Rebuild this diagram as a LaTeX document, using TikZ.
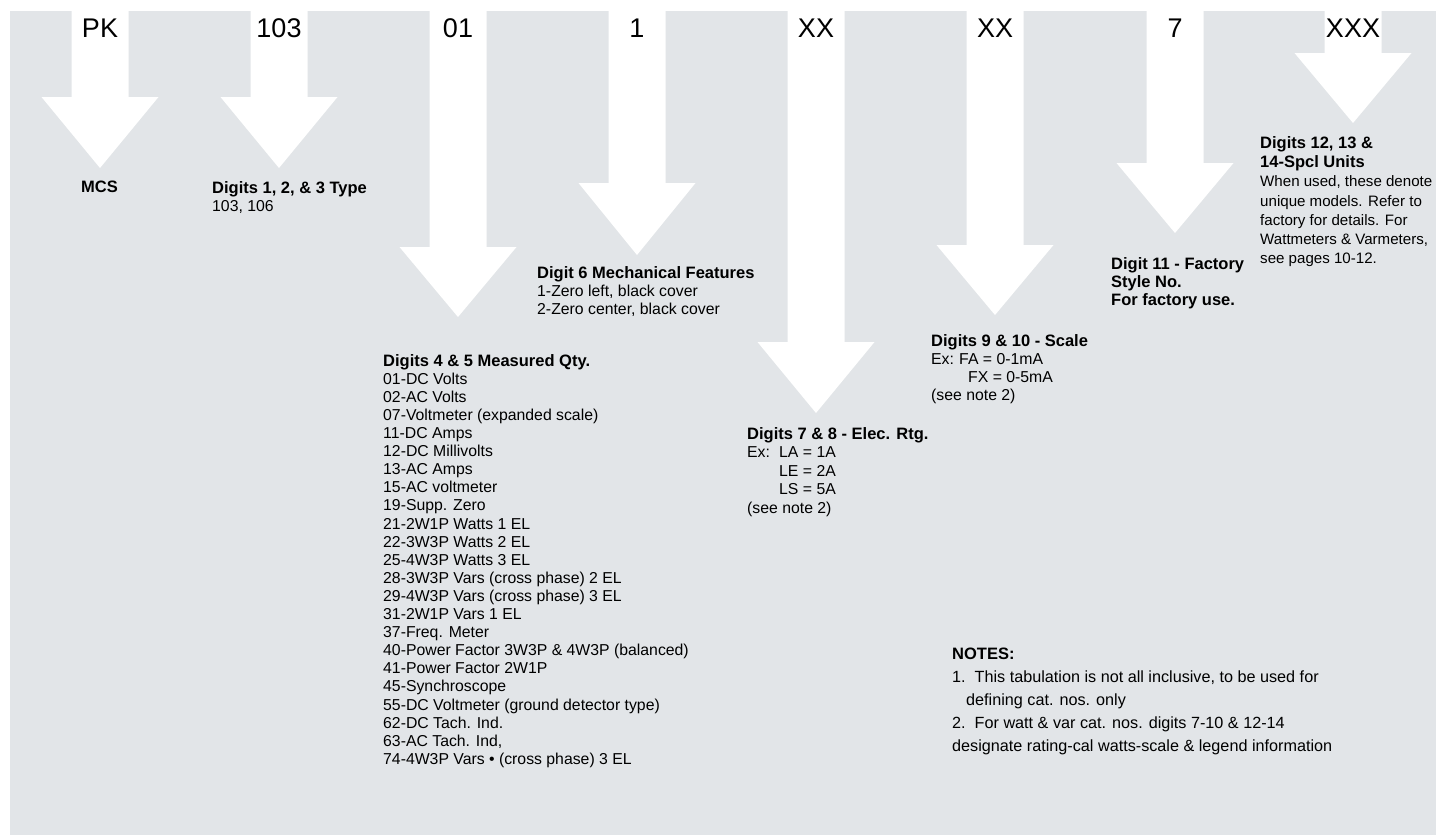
\documentclass[tikz,border=0pt]{standalone}
\usepackage{fontspec}
\setmainfont{Liberation Sans}
\definecolor{panelgray}{RGB}{226,229,232}
\tikzset{
  digarrow/.style={fill=white},
  codelbl/.style={font=\fontsize{27}{30}\selectfont, inner sep=0pt},
  infotxt/.style={anchor=north west, inner sep=0pt, align=left, font=\fontsize{15.8}{18.1}\selectfont},
  notetxt/.style={anchor=north west, inner sep=0pt, align=left, font=\fontsize{16.2}{23}\selectfont},
}
\newcommand{\hd}[1]{{\fontsize{16.5}{18.1}\selectfont\bfseries #1}}

\begin{document}
\begin{tikzpicture}[x=1pt,y=-1pt]
    \useasboundingbox (0,0) rectangle (1436,835);
    \fill[white] (0,0) rectangle (1436,835);
    \fill[panelgray] (10,11) rectangle (1436,835);

    % block arrows: centre / top of head / tip
    \foreach \cx/\ht/\tp [count=\i] in {100/97/168, 279/97/168, 458/247/317, 637/183/255,
        816/342/413, 995/245/315, 1175/163/233, 1353/53/123}{
      \fill[digarrow] (\cx-28.5,11) -- (\cx+28.5,11) -- (\cx+28.5,\ht) -- (\cx+58.5,\ht)
        -- (\cx,\tp) -- (\cx-58.5,\ht) -- (\cx-28.5,\ht) -- cycle;
      \coordinate (tip\i) at (\cx,\tp);
    }

    % code letters on the shafts
    \foreach \cx/\txt [count=\i] in {100/PK, 279/103, 458/01, 637/1, 816/XX, 995/XX, 1175/7, 1353/XXX}
      \node[codelbl] (code\i) at (\cx,28) {\txt};

    \node[infotxt] (mcs) at (81,181) {\hd{MCS}};
    \node[infotxt] (type) at (212,181) {\hd{Digits 1, 2, \& 3 Type}\\103, 106};
    \node[infotxt] (mech) at (537,266) {\hd{Digit 6 Mechanical Features}\\
      1-Zero left, black cover\\2-Zero center, black cover};
    \node[infotxt] (qty) at (383,354) {\hd{Digits 4 \& 5 Measured Qty.}\\
      01-DC Volts\\02-AC Volts\\07-Voltmeter (expanded scale)\\11-DC Amps\\
      12-DC Millivolts\\13-AC Amps\\15-AC voltmeter\\19-Supp. Zero\\
      21-2W1P Watts 1 EL\\22-3W3P Watts 2 EL\\25-4W3P Watts 3 EL\\
      28-3W3P Vars (cross phase) 2 EL\\29-4W3P Vars (cross phase) 3 EL\\
      31-2W1P Vars 1 EL\\37-Freq. Meter\\40-Power Factor 3W3P \& 4W3P (balanced)\\
      41-Power Factor 2W1P\\45-Synchroscope\\55-DC Voltmeter (ground detector type)\\
      62-DC Tach. Ind.\\63-AC Tach. Ind,\\74-4W3P Vars • (cross phase) 3 EL};
    \node[infotxt, font=\fontsize{15.8}{18.5}\selectfont] (elec) at (747,427) {\hd{Digits 7 \& 8 - Elec. Rtg.}\\
      \makebox[32pt][l]{Ex:}LA = 1A\\\hspace*{32pt}LE = 2A\\\hspace*{32pt}LS = 5A\\(see note 2)};
    \node[infotxt] (scale) at (931,334) {\hd{Digits 9 \& 10 - Scale}\\
      \makebox[28pt][l]{Ex:}FA = 0-1mA\\\hspace*{37pt}FX = 0-5mA\\(see note 2)};
    \node[infotxt] (factory) at (1111,257) {\hd{Digit 11 - Factory}\\\hd{Style No.}\\\hd{For factory use.}};
    \node[infotxt, font=\fontsize{15.1}{19.3}\selectfont] (spcl) at (1260,136) {\hd{Digits 12, 13 \&}\\\hd{14-Spcl Units}\\
      When used, these denote\\unique models. Refer to\\factory for details. For\\
      Wattmeters \& Varmeters,\\see pages 10-12.};

    \node[notetxt] (notes) at (952,648) {\hd{NOTES:}\\
      1.\ \ This tabulation is not all inclusive, to be used for\\
      \hspace*{14pt}defining cat. nos. only\\
      2.\ \ For watt \& var cat. nos. digits 7-10 \& 12-14\\
      designate rating-cal watts-scale \& legend information};
\end{tikzpicture}
\end{document}
